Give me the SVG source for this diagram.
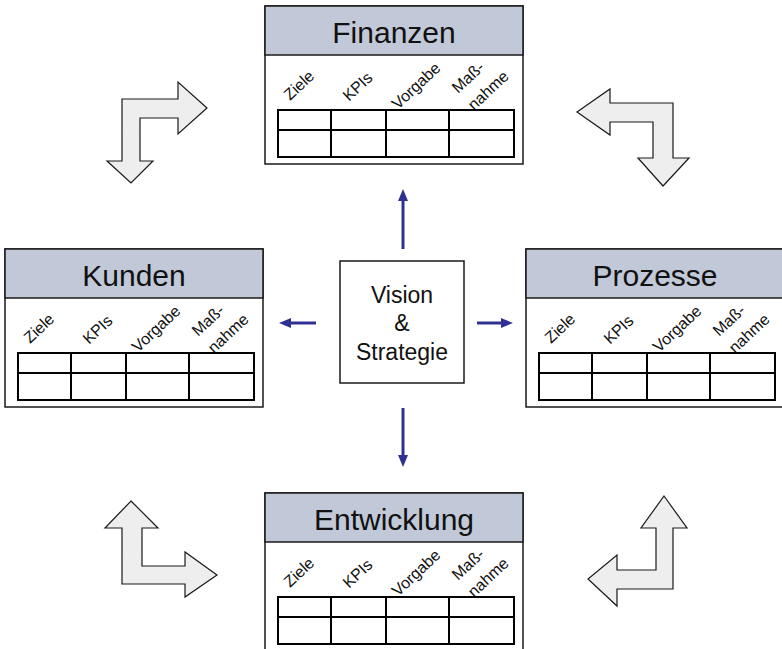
<svg xmlns="http://www.w3.org/2000/svg" width="782" height="649" viewBox="0 0 782 649">
  <style>
    .card { fill: #ffffff; stroke: #1a1a1a; stroke-width: 1.5; }
    .head { fill: #c1c8d7; stroke: #1a1a1a; stroke-width: 1.5; }
    .title { font-family: "Liberation Sans", Arial, sans-serif; font-size: 30px; fill: #111111; text-anchor: middle; }
    .lbl { font-family: "Liberation Sans", Arial, sans-serif; font-size: 16px; fill: #111111; }
    .grid { fill: none; stroke: #000000; stroke-width: 2; }
    .center { fill: #ffffff; stroke: #1a1a1a; stroke-width: 1.5; }
    .ctext { font-family: "Liberation Sans", Arial, sans-serif; font-size: 23px; fill: #111111; text-anchor: middle; }
    .flow { stroke: #2e3192; stroke-width: 3; fill: none; marker-end: url(#head); }
    .bend { fill: #eeeeee; stroke: #1a1a1a; stroke-width: 1.2; stroke-linejoin: miter; }
  </style>
  <defs>
    <marker id="head" markerUnits="userSpaceOnUse" markerWidth="12" markerHeight="10" viewBox="0 0 12 10" refX="4" refY="5" orient="auto">
      <path d="M0,0 L12,5 L0,10 z" fill="#2e3192"/>
    </marker>
    <!-- 2x4 table used on every perspective card -->
    <g id="table">
      <rect class="grid" x="13" y="104" width="236" height="47"/>
      <path class="grid" d="M13,124 H249 M66,104 V151 M121,104 V151 M184,104 V151"/>
    </g>
  </defs>

  <!-- bent cycle arrows between the perspectives -->
  <g id="cycle">
    <polygon class="bend" points="122,99 178,99 178,82 207,108 178,134 178,118 140,118 140,161 153,161 131,183 107,161 122,161"/>
    <polygon class="bend" points="577,112 610,89 610,103 673,103 673,158 689,158 663,186 638,158 653,158 653,122 610,122 610,135"/>
    <polygon class="bend" points="131,501 158,528 142,528 142,566 185,566 185,552 217,575 185,597 185,584 122,584 122,528 105,528"/>
    <polygon class="bend" points="664,496 687,528 673,528 673,589 617,589 617,606 588,579 617,555 617,570 656,570 656,528 641,528"/>
  </g>

  <!-- arrows from the centre out to the four perspectives -->
  <g id="connectors">
    <path class="flow" d="M403,249 V197"/>
    <path class="flow" d="M403,408 V459"/>
    <path class="flow" d="M316,323 H287"/>
    <path class="flow" d="M477,323 H505"/>
  </g>

  <g id="vision">
    <rect class="center" x="340" y="261" width="124" height="122"/>
    <text class="ctext" x="402" y="303">Vision</text>
    <text class="ctext" x="402" y="331">&amp;</text>
    <text class="ctext" x="402" y="360">Strategie</text>
  </g>

  <g id="finanzen" transform="translate(265,6)">
    <rect class="card" x="0" y="0" width="258" height="158"/>
    <rect class="head" x="0" y="0" width="258" height="49"/>
    <text class="title" x="129" y="37">Finanzen</text>
    <text class="lbl" transform="translate(25,95) rotate(-43)">Ziele</text>
    <text class="lbl" transform="translate(84,96) rotate(-43)">KPIs</text>
    <text class="lbl" transform="translate(133,104) rotate(-43)">Vorgabe</text>
    <text class="lbl" transform="translate(193,88) rotate(-43)">Maß-</text>
    <text class="lbl" transform="translate(209,105) rotate(-43)">nahme</text>
    <use href="#table"/>
  </g>

  <g id="kunden" transform="translate(5,249)">
    <rect class="card" x="0" y="0" width="258" height="158"/>
    <rect class="head" x="0" y="0" width="258" height="49"/>
    <text class="title" x="129" y="37">Kunden</text>
    <text class="lbl" transform="translate(25,95) rotate(-43)">Ziele</text>
    <text class="lbl" transform="translate(84,96) rotate(-43)">KPIs</text>
    <text class="lbl" transform="translate(133,104) rotate(-43)">Vorgabe</text>
    <text class="lbl" transform="translate(193,88) rotate(-43)">Maß-</text>
    <text class="lbl" transform="translate(209,105) rotate(-43)">nahme</text>
    <use href="#table"/>
  </g>

  <g id="prozesse" transform="translate(526,249)">
    <rect class="card" x="0" y="0" width="258" height="158"/>
    <rect class="head" x="0" y="0" width="258" height="49"/>
    <text class="title" x="129" y="37">Prozesse</text>
    <text class="lbl" transform="translate(25,95) rotate(-43)">Ziele</text>
    <text class="lbl" transform="translate(84,96) rotate(-43)">KPIs</text>
    <text class="lbl" transform="translate(133,104) rotate(-43)">Vorgabe</text>
    <text class="lbl" transform="translate(193,88) rotate(-43)">Maß-</text>
    <text class="lbl" transform="translate(209,105) rotate(-43)">nahme</text>
    <use href="#table"/>
  </g>

  <g id="entwicklung" transform="translate(265,493)">
    <rect class="card" x="0" y="0" width="258" height="158"/>
    <rect class="head" x="0" y="0" width="258" height="49"/>
    <text class="title" x="129" y="37">Entwicklung</text>
    <text class="lbl" transform="translate(25,95) rotate(-43)">Ziele</text>
    <text class="lbl" transform="translate(84,96) rotate(-43)">KPIs</text>
    <text class="lbl" transform="translate(133,104) rotate(-43)">Vorgabe</text>
    <text class="lbl" transform="translate(193,88) rotate(-43)">Maß-</text>
    <text class="lbl" transform="translate(209,105) rotate(-43)">nahme</text>
    <use href="#table"/>
  </g>
</svg>
